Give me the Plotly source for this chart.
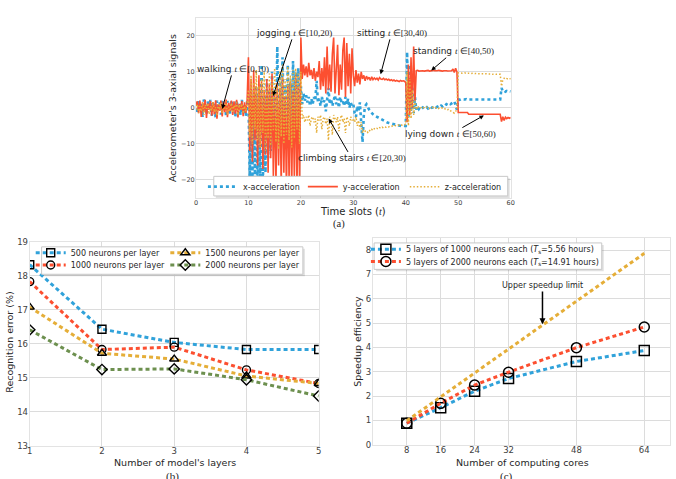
import plotly.graph_objects as go

W, H = 676, 479


def px(x):
    return x / W


def py(y):
    return 1 - y / H


# ---------------- (a) accelerometer signals ----------------
t = [i * 0.25 for i in range(241)]  # sampling times 0..60

x_walk = [1.5, -1.5, 2.0, -0.5, 1.0, -2.5, 2.3, 0.0, -1.8, 1.8, -0.8, 2.2, -2.2, 1.2, 0.3, -2.7, 2.0, -0.5, 1.5, -1.9,
          2.3, -1.0, 0.8, -2.4, 1.9, 0.2, -1.6, 2.1, -0.7, 1.3, -2.5, 2.0, -0.2, 1.0, -2.0, 2.2, -1.2, 0.6, -2.3, 1.8]
x_jog = [3.0, -20.0, 5.0, -21.0, 2.0, -19.5, 6.0, -22.0, 4.0, -20.0, 12.0, -21.0, 3.0, -18.0, 8.0, -14.0, 5.0, -12.0, 10.0, -8.0,
         4.0, -10.0, 17.0, -6.0, 9.0, -9.0, 14.0, -5.0, 6.0, -8.0, 12.0, -4.0, 7.0, -7.0, 13.0, -3.0, 10.0, -5.0, 11.0, -2.0]
x_stairs = [6.0, 1.0, 4.0, 2.0, 3.5, 1.5, 3.0, 0.5, 2.5, 1.0, 3.0, 2.0, 7.5, 1.5, 2.5, 0.5, 3.0, 1.5, 2.0, -1.0,
            3.0, 5.5, 1.0, 2.5, 0.5, 2.0, 3.5, 1.0, 2.5, 0.0, 3.0, 1.5, 2.0, 0.5, 3.0, 1.0, 2.5, 0.0, 1.5, 0.5]
x_sit = [1.0, -1.5, -2.5, 0.5, -1.0, 1.5, -3.0, -9.5, -2.0, 0.5, 1.0, 0.0, -0.5, -1.0, -1.5, -1.8, -2.1, -2.3, -2.6, -2.8,
         -3.0, -3.3, -3.4, -3.7, -3.8, -3.9, -4.1, -4.2, -4.3, -4.5, -4.5, -4.6, -4.7, -4.8, -4.9, -4.9, -5.0, -5.1, -5.0, -5.1]
x_stand = [-5.0, 15.5, -3.0, 12.0, -1.0, 6.0, -1.5, 3.0, -0.5, 0.5, -0.3, 0.2, -0.2, 0.1, -0.3, 0.0, 0.2, -0.2, 0.1, 0.3,
           0.0, 0.2, 0.4, 0.1, 0.3, 0.5, 0.2, 0.6, 0.4, 0.8, 0.6, 1.0, 0.8, 1.2, 1.0, 1.4, 1.5, 1.8, 0.5, -0.5]
x_lie = [2.3, 2.2, 2.4, 2.3, 2.2, 2.3, 2.4, 2.2, 2.3, 2.3, 2.2, 2.4, 2.3, 2.2, 2.3, 2.4, 2.3, 2.2, 2.3, 2.4,
         2.3, 2.2, 2.3, 2.3, 2.4, 2.2, 2.3, 2.4, 2.3, 2.2, 2.3, 2.4, 2.3, 5.5, 4.6, 4.8, 4.5, 4.7, 4.5, 4.6, 4.5]

y_walk = [0.5, 1.8, -1.5, 2.0, -2.5, 1.5, -1.0, 2.2, -2.8, 1.2, -0.5, 1.9, -2.2, 1.6, -1.8, 2.1, -3.0, 1.0, -0.8, 2.0,
          -2.4, 1.7, -1.2, 2.3, -2.6, 1.4, -0.9, 2.0, -2.0, 1.8, -1.6, 2.2, -2.7, 1.1, -0.6, 1.9, -2.3, 1.5, -1.4, 2.0]
y_jog = [14.0, -12.0, 8.0, -15.0, 10.5, -9.0, 6.0, -16.0, 9.0, -11.0, 7.5, -17.0, 5.0, -13.0, 8.0, -18.0, 6.5, -14.0, 9.5, -19.0,
         4.0, -21.0, 7.0, -16.0, 5.5, -22.0, 8.5, -18.0, 3.0, -23.0, 6.0, -20.0, 7.5, -22.0, 4.5, -19.0, 9.0, -23.0, 6.0, -21.0]
y_stairs = [19.5, 8.0, 12.0, 9.0, 11.5, 8.5, 12.5, 9.0, 10.5, 8.0, 11.0, 7.5, 10.0, 8.5, 13.0, 5.0, 11.0, 6.0, 14.0, 4.0,
            17.0, 5.0, 12.0, 4.5, 15.0, 19.5, 4.0, 13.0, 17.5, 3.5, 12.0, 5.0, 16.0, 19.5, 3.0, 18.0, 6.0, 15.0, 4.0, 16.5]
y_sit = [9.0, 6.0, 10.5, 7.0, 9.5, 6.5, 10.0, 8.0, 9.0, 7.5, 8.8, 8.0, 8.5, 7.6, 8.6, 7.8, 8.3, 7.9, 8.2, 7.7,
         8.4, 8.0, 7.9, 8.2, 7.8, 8.0, 7.7, 7.9, 7.6, 7.8, 7.5, 7.7, 7.4, 7.6, 7.5, 7.3, 7.6, 7.4, 7.5, 7.4]
y_stand = [7.0, -4.0, 12.0, -2.0, 14.0, 0.0, 17.0, 2.0, 10.3, 10.4, 10.2, 10.3, 10.4, 10.3, 10.2, 10.3, 10.3, 10.4, 10.2, 10.3,
           10.3, 10.4, 10.3, 10.2, 10.3, 10.4, 10.3, 10.3, 10.2, 10.3, 10.4, 10.3, 10.2, 10.3, 10.4, 10.3, 10.8, 9.8, 11.0, 10.0]
y_lie = [-1.3, -1.3, -1.4, -1.3, -1.3, -1.4, -1.3, -1.3, -1.8, -1.8, -1.9, -1.8, -1.8, -1.9, -1.8, -1.8, -1.9, -1.8, -1.8, -1.9,
         -1.8, -1.8, -1.9, -1.8, -1.8, -1.9, -1.8, -1.8, -1.9, -1.8, -1.8, -1.9, -1.8, -3.8, -2.5, -3.5, -2.6, -3.0, -2.7, -2.9, -2.7]

z_walk = [-0.5, 1.0, -1.5, 0.5, -1.0, 1.5, -2.0, 0.8, -0.3, 1.2, -1.8, 0.4, -0.8, 1.6, -1.2, 0.2, -2.2, 1.0, -0.6, 1.4,
          -1.5, 0.6, -0.2, 1.8, -1.9, 0.3, -0.9, 1.3, -1.4, 0.7, -0.5, 1.5, -2.0, 0.9, -0.4, 1.1, -1.6, 0.5, -1.0, 1.2]
z_jog = [5.0, -8.0, 9.0, -10.0, 7.0, -6.0, 10.5, -9.0, 6.0, -11.0, 8.0, -7.0, 10.0, -12.0, 5.5, -8.5, 9.5, -10.5, 7.5, -6.5,
         11.0, -9.5, 6.5, -11.5, 10.0, -8.0, 12.0, -10.0, 8.0, -7.5, 11.5, -9.0, 9.0, -11.0, 10.5, -8.5, 11.0, -6.0, 9.5, -10.0]
z_stairs = [10.0, -3.0, -2.0, -4.0, -2.5, -3.5, -2.0, -5.0, -3.0, -2.5, -4.0, -3.0, -7.0, -2.5, -3.5, -2.0, -6.0, -3.0, -2.5, -4.5,
            -3.0, -9.0, -2.5, -3.5, -7.5, -2.0, -3.0, -4.0, -2.5, -6.5, -3.0, -2.0, -4.0, -3.0, -7.0, -2.5, -3.5, -5.0, -2.5, -3.5]
z_sit = [-3.0, -4.0, -2.5, -5.0, -3.5, -6.0, -4.0, -7.0, -6.0, -6.5, -6.3, -6.8, -6.2, -6.5, -6.0, -6.3, -5.8, -6.0, -5.7, -5.9,
         -5.5, -5.7, -5.4, -5.6, -5.3, -5.4, -5.2, -5.3, -5.1, -5.2, -5.0, -5.1, -4.9, -5.0, -4.8, -4.9, -4.7, -4.8, -4.6, -4.7]
z_stand = [-4.5, 10.0, -5.0, 8.0, -3.0, 5.0, -2.0, 2.0, -0.5, 0.5, 0.0, 0.2, -0.2, 0.1, 0.0, -0.1, 0.2, 0.0, -0.2, 0.1,
           0.0, 0.2, -0.1, 0.0, 0.1, -0.2, 0.0, 0.1, -0.1, 0.0, -0.3, -0.2, -0.5, -0.4, -0.8, -1.0, -1.3, -1.5, -1.0, -0.5]
z_lie = [9.7, 9.6, 9.7, 9.6, 9.6, 9.7, 9.5, 9.6, 9.6, 9.5, 9.6, 9.5, 9.6, 9.5, 9.5, 9.6, 9.5, 9.4, 9.5, 9.5,
         9.4, 9.5, 9.4, 9.4, 9.5, 9.4, 9.3, 9.4, 9.4, 9.3, 9.4, 9.3, 9.3, 6.0, 7.8, 8.2, 7.9, 8.1, 8.0, 8.2, 8.0]

x_acc = x_walk + x_jog + x_stairs + x_sit + x_stand + x_lie
y_acc = y_walk + y_jog + y_stairs + y_sit + y_stand + y_lie
z_acc = z_walk + z_jog + z_stairs + z_sit + z_stand + z_lie

# ---------------- (b) recognition error ----------------
layers = [1, 2, 3, 4, 5]
err_500 = [18.33, 16.43, 16.04, 15.83, 15.83]
err_1000 = [17.83, 15.83, 15.90, 15.23, 14.83]
err_1500 = [17.08, 15.72, 15.55, 15.05, 14.83]
err_2000 = [16.41, 15.24, 15.26, 14.94, 14.46]

# ---------------- (c) speedup ----------------
cores = [8, 16, 24, 32, 48, 64]
speed_1000 = [0.88, 1.52, 2.20, 2.72, 3.42, 3.87]
speed_2000 = [0.88, 1.70, 2.45, 2.98, 3.99, 4.84]
speed_limit = [0.98, 1.97, 2.95, 3.93, 5.90, 7.87]

BLUE, RED, YELLOW, GREEN = "#30a2da", "#fc4f30", "#e5ae38", "#6d904f"
FONT = "DejaVu Sans"
SERIF = "Liberation Serif"
TXT = "#262626"

fig = go.Figure()

# (a)
fig.add_trace(go.Scatter(x=t, y=x_acc, mode="lines", name="x-acceleration",
                         line=dict(color=BLUE, width=2.6, dash="3px,3px"),
                         xaxis="x", yaxis="y", legend="legend"))
fig.add_trace(go.Scatter(x=t, y=y_acc, mode="lines", name="y-acceleration",
                         line=dict(color=RED, width=1.6),
                         xaxis="x", yaxis="y", legend="legend2"))
fig.add_trace(go.Scatter(x=t, y=z_acc, mode="lines", name="z-acceleration",
                         line=dict(color=YELLOW, width=1.5, dash="1.5px,2px"),
                         xaxis="x", yaxis="y", legend="legend3"))

# (b)
b_series = [
    (err_500, BLUE, "square-open", "500 neurons per layer", "legend4"),
    (err_1000, RED, "circle-open", "1000 neurons per layer", "legend6"),
    (err_1500, YELLOW, "triangle-up-open", "1500 neurons per layer", "legend5"),
    (err_2000, GREEN, "diamond-open", "2000 neurons per layer", "legend7"),
]
for vals, col, sym, name, lg in b_series:
    fig.add_trace(go.Scatter(x=layers, y=vals, mode="lines+markers", name=name,
                             line=dict(color=col, width=3, dash="4px,3px"),
                             marker=dict(symbol=sym, size=8, color="black",
                                         line=dict(width=1.4, color="black")),
                             xaxis="x2", yaxis="y2", legend=lg))

# (c)
fig.add_trace(go.Scatter(x=cores, y=speed_1000, mode="lines+markers",
                         name="5 layers of 1000 neurons each (<i>T</i><sub>s</sub>=5.56 hours)",
                         line=dict(color=BLUE, width=3, dash="4px,3px"),
                         marker=dict(symbol="square-open", size=10, color="black",
                                     line=dict(width=1.5, color="black")),
                         xaxis="x3", yaxis="y3", legend="legend8"))
fig.add_trace(go.Scatter(x=cores, y=speed_2000, mode="lines+markers",
                         name="5 layers of 2000 neurons each (<i>T</i><sub>s</sub>=14.91 hours)",
                         line=dict(color=RED, width=3, dash="4px,3px"),
                         marker=dict(symbol="circle-open", size=10, color="black",
                                     line=dict(width=1.5, color="black")),
                         xaxis="x3", yaxis="y3", legend="legend9"))
fig.add_trace(go.Scatter(x=cores, y=speed_limit, mode="lines", name="Upper speedup limit",
                         line=dict(color=YELLOW, width=3, dash="4px,3px"),
                         showlegend=False, xaxis="x3", yaxis="y3"))

GRID = "#dcdcdc"
axis_common = dict(showgrid=True, gridcolor=GRID, gridwidth=1, zeroline=False,
                   showline=True, mirror=True, linecolor="#e3e3e3", linewidth=1,
                   ticks="", color="#404040")

layout = dict(
    width=W, height=H, autosize=False,
    margin=dict(l=0, r=0, t=0, b=0),
    paper_bgcolor="white", plot_bgcolor="white",
    font=dict(family=FONT, color=TXT),
    xaxis=dict(axis_common, domain=[px(195), px(513)], range=[0, 60],
               tickvals=[0, 10, 20, 30, 40, 50, 60], tickfont=dict(size=6.5),
               ticklabelstandoff=-2, anchor="y"),
    yaxis=dict(axis_common, domain=[py(197), py(13)], range=[-25, 25],
               tickvals=[-20, -10, 0, 10, 20], tickfont=dict(size=6.5),
               ticklabelstandoff=-1, anchor="x"),
    xaxis2=dict(axis_common, domain=[px(27), px(319)], range=[1, 5],
                tickvals=layers, tickfont=dict(size=8.5), ticklabelstandoff=-3, anchor="y2"),
    yaxis2=dict(axis_common, domain=[py(450), py(242)], range=[13, 19],
                tickvals=[13, 14, 15, 16, 17, 18, 19], tickfont=dict(size=8.5),
                ticklabelstandoff=-1, anchor="x2"),
    xaxis3=dict(axis_common, domain=[px(373.7), px(673.7)], range=[0, 70],
                tickvals=cores, tickfont=dict(size=8.5), ticklabelstandoff=-3, anchor="y3"),
    yaxis3=dict(axis_common, domain=[py(449), py(238)], range=[0, 8.5],
                tickvals=[0, 1, 2, 3, 4, 5, 6, 7, 8], tickfont=dict(size=8.5),
                ticklabelstandoff=-1, anchor="x3"),
)

legend_pos = {
    "legend": (202, 185.5), "legend2": (303, 185.5), "legend3": (406, 185.5),
    "legend4": (28, 253), "legend5": (164, 253), "legend6": (28, 265.5), "legend7": (164, 265.5),
    "legend8": (366.7, 249.5), "legend9": (366.7, 262),
}
for key, (lx, ly) in legend_pos.items():
    layout[key] = dict(x=px(lx), y=py(ly), xanchor="left", yanchor="middle",
                       orientation="h", bgcolor="rgba(0,0,0,0)", borderwidth=0,
                       font=dict(size=8, family=FONT, color=TXT))

# legend frames (with soft shadow)
frames = [(213, 175, 510, 195), (39, 247, 303, 275), (375, 243, 605, 270)]
shapes = []
for x0, y0, x1, y1 in frames:
    shapes.append(dict(type="rect", xref="paper", yref="paper", layer="above",
                       x0=px(x0 + 2), x1=px(x1 + 2), y0=py(y1 + 2), y1=py(y0 + 2),
                       fillcolor="rgba(0,0,0,0.12)", line=dict(width=0)))
    shapes.append(dict(type="rect", xref="paper", yref="paper", layer="above",
                       x0=px(x0), x1=px(x1), y0=py(y1), y1=py(y0),
                       fillcolor="white", line=dict(color="#c8c8c8", width=1)))
layout["shapes"] = shapes

ann = []


def math(s):
    return '<span style="font-family:Liberation Serif">' + s + '</span>'


# activity labels with arrows in (a)
acts = [
    ("walking " + math("<i>t</i> ∈[0,10)"), 5.0, -0.3, 7.1, 10.8),
    ("jogging " + math("<i>t</i> ∈[10,20)"), 14.7, 3.3, 18.7, 20.8),
    ("sitting " + math("<i>t</i> ∈[30,40)"), 35.2, 9.3, 37.3, 20.8),
    ("standing " + math("<i>t</i> ∈[40,50)"), 44.85, 10.35, 49.15, 15.7),
    ("lying down " + math("<i>t</i> ∈[50,60)"), 54.9, -2.1, 48.6, -7.3),
    ("climbing stairs " + math("<i>t</i> ∈[20,30)"), 25.3, -3.0, 29.7, -14.05),
]
for text, hx, hy, tx, ty in acts:
    ann.append(dict(text=text, x=hx, y=hy, ax=tx, ay=ty, xref="x", yref="y",
                    axref="x", ayref="y", showarrow=True, arrowhead=2, arrowsize=0.9,
                    arrowwidth=1, arrowcolor="black", font=dict(size=9, color=TXT)))

ann.append(dict(text="Upper speedup limit", x=40, y=4.95, ax=40, ay=6.55,
                xref="x3", yref="y3", axref="x3", ayref="y3", showarrow=True,
                arrowhead=2, arrowsize=0.8, arrowwidth=1.5, arrowcolor="black",
                font=dict(size=8, color=TXT)))


# axis titles and panel labels
def label(text, x, y, size, rot=0, family=FONT, yanchor="middle"):
    ann.append(dict(text=text, x=px(x), y=py(y), xref="paper", yref="paper",
                    showarrow=False, textangle=rot, xanchor="center", yanchor=yanchor,
                    font=dict(size=size, family=family, color=TXT)))


label("Time slots (" + math("<i>t</i>") + ")", 353.7, 210.5, 10)
label("(a)", 340, 223.5, 10.5, family=SERIF)
label("Accelerometer's 3-axial signals", 172, 105, 9.5, rot=-90)
label("Number of model's layers", 174.2, 467, 9.5)
label("Recognition error (%)", 7, 344, 9.5, rot=-90)
label("(b)", 171.7, 473, 11, family=SERIF, yanchor="top")
label("Number of computing cores", 525, 467, 9.5)
label("Speedup efficiency", 358.7, 343, 9.5, rot=-90)
label("(c)", 509, 473, 11, family=SERIF, yanchor="top")

layout["annotations"] = ann
fig.update_layout(layout)
fig.write_html("out.html")
